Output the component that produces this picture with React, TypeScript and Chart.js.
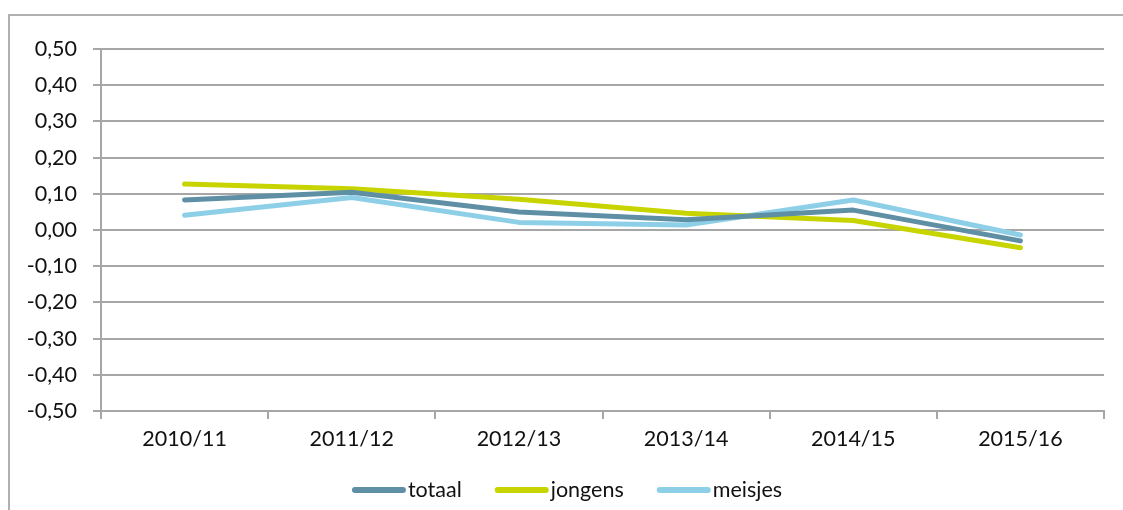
import React, { useEffect, useRef } from "react";
import { Chart, registerables } from "chart.js";

Chart.register(...registerables);

const categories = ["2010/11", "2011/12", "2012/13", "2013/14", "2014/15", "2015/16"];
const totaal = [0.083, 0.104, 0.05, 0.028, 0.055, -0.03];
const jongens = [0.127, 0.114, 0.085, 0.046, 0.026, -0.049];
const meisjes = [0.041, 0.09, 0.021, 0.014, 0.083, -0.014];
const seriesNames = ["totaal", "jongens", "meisjes"];
const seriesColors = ["#5F8FA5", "#C8D400", "#8ECFE8"];
const yTicks = { min: -0.5, max: 0.5, step: 0.1 };

const FONT = "Lato, 'Noto Sans', sans-serif";
const FONT_SIZE = 21.5;
const GRID = "#a6a6a6";
const TEXT = "#111";

const legendPlugin = {
  id: "customLegend",
  afterDraw(chart: any) {
    const ctx = chart.ctx;
    const sets = chart.data.datasets;
    const lineLen = 54;
    const textGap = 2;
    const itemGap = 33;
    const y = 490;
    ctx.save();
    ctx.font = `${FONT_SIZE}px ${FONT}`;
    const widths = sets.map((d: any) => lineLen + textGap + ctx.measureText(d.label).width);
    const total = widths.reduce((a: number, b: number) => a + b, 0) + itemGap * (sets.length - 1);
    let x = 567 - total / 2;
    sets.forEach((d: any, i: number) => {
      ctx.strokeStyle = d.borderColor;
      ctx.lineWidth = 6;
      ctx.lineCap = "round";
      ctx.beginPath();
      ctx.moveTo(x + 3, y);
      ctx.lineTo(x + lineLen - 3, y);
      ctx.stroke();
      ctx.fillStyle = TEXT;
      ctx.textBaseline = "middle";
      ctx.textAlign = "left";
      ctx.fillText(d.label, x + lineLen + textGap, y);
      x += widths[i] + itemGap;
    });
    ctx.restore();
  },
};

export default function App() {
  const ref = useRef<HTMLCanvasElement>(null);
  useEffect(() => {
    if (!ref.current) return;
    const values = [totaal, jongens, meisjes];
    const chart = new Chart(ref.current, {
      type: "line",
      data: {
        labels: categories,
        datasets: values.map((v, i) => ({
          label: seriesNames[i],
          data: v,
          borderColor: seriesColors[i],
          backgroundColor: seriesColors[i],
          borderWidth: 5,
          borderCapStyle: "round",
          borderJoinStyle: "round",
          pointRadius: 0,
          tension: 0,
          fill: false,
        })),
      },
      options: {
        animation: false,
        responsive: false,
        layout: { padding: { left: 0, top: 49, right: 19, bottom: 0 } },
        plugins: { legend: { display: false }, tooltip: { enabled: false } },
        scales: {
          x: {
            offset: true,
            grid: {
              display: true,
              drawOnChartArea: false,
              drawTicks: true,
              tickLength: 8,
              color: GRID,
              lineWidth: 2,
              offset: true,
            },
            border: { display: true, color: GRID, width: 2 },
            ticks: {
              color: TEXT,
              font: { family: FONT, size: FONT_SIZE },
              padding: 7,
              maxRotation: 0,
            },
            afterFit: (s: any) => {
              s.height = 99;
            },
          },
          y: {
            min: yTicks.min,
            max: yTicks.max,
            grid: { color: GRID, lineWidth: 2, tickLength: 8, drawTicks: true },
            border: { display: true, color: GRID, width: 2 },
            ticks: {
              stepSize: yTicks.step,
              color: TEXT,
              font: { family: FONT, size: FONT_SIZE },
              padding: 16,
              callback: (v: any) => {
                const n = Math.abs(v) < 1e-9 ? 0 : Number(v);
                return n.toFixed(2).replace(".", ",");
              },
            },
            afterFit: (s: any) => {
              s.width = 101;
            },
          },
        },
      },
      plugins: [legendPlugin],
    } as any);
    return () => chart.destroy();
  }, []);

  return (
    <div style={{ position: "absolute", left: 0, top: 0, width: 1123, height: 510, overflow: "hidden", background: "#fff" }}>
      <div
        style={{
          position: "absolute",
          left: 8,
          top: 14,
          width: 1200,
          height: 600,
          border: "2px solid #b0b0b0",
          boxSizing: "border-box",
        }}
      />
      <canvas ref={ref} width={1123} height={510} style={{ position: "absolute", left: 0, top: 0, width: 1123, height: 510 }} />
    </div>
  );
}
